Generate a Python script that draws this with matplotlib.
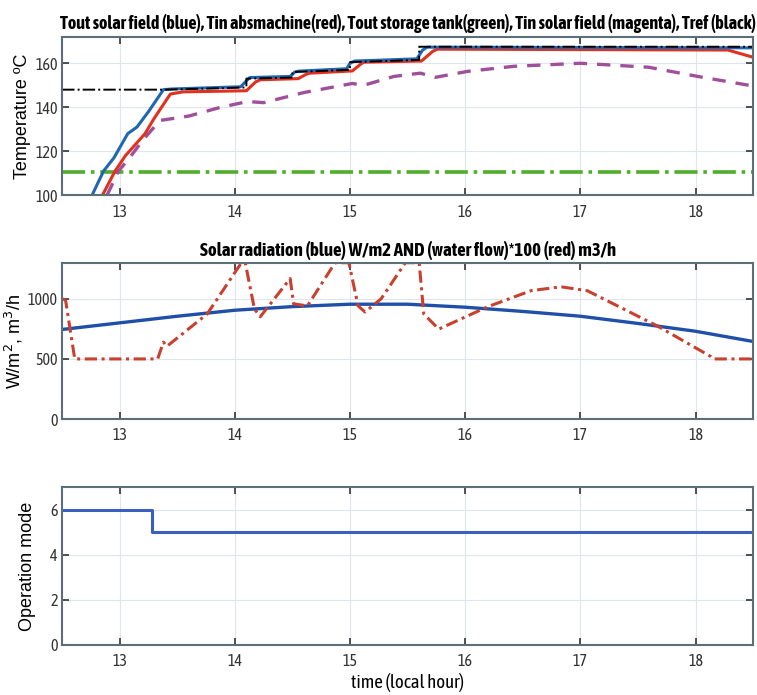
import numpy as np
import matplotlib
matplotlib.use('Agg')
import matplotlib.pyplot as plt
from matplotlib import font_manager

# narrow face for ticks/titles (reference looks like Arial Narrow)
names = [f.name for f in font_manager.fontManager.ttflist]
bold_names = [f.name for f in font_manager.fontManager.ttflist
              if f.weight in ('bold', 700, 'heavy')]
narrow = None
for n in names:
    if ('Narrow' in n or 'Condensed' in n) and n in bold_names:
        narrow = n
        break
if narrow is None:
    for n in names:
        if 'Narrow' in n or 'Condensed' in n:
            narrow = n
            break
nfam = [narrow, 'DejaVu Sans'] if narrow else ['Liberation Sans', 'DejaVu Sans']
rfam = ['Liberation Sans', 'DejaVu Sans']
plt.rcParams['font.family'] = nfam

# top panel: temperatures
t_blue = [12.76, 12.86, 12.95, 13.07, 13.15, 13.25, 13.38, 13.45, 14.05, 14.10, 14.13, 14.48, 14.52, 14.55, 14.97, 15.00, 15.04, 15.58, 15.63, 15.67, 18.50]
T_blue = [100, 111, 117, 128, 131, 138, 148, 148.3, 149.3, 152, 153.5, 154, 156, 156.4, 157.5, 160, 161, 162, 166, 167.3, 167]

t_red = [12.85, 12.96, 13.05, 13.22, 13.30, 13.44, 13.55, 14.10, 14.18, 14.22, 14.55, 14.62, 14.65, 15.02, 15.09, 15.12, 15.62, 15.72, 15.76, 18.28, 18.50]
T_red = [100, 111, 118, 128, 135, 146, 147, 147.5, 151.5, 152.5, 153, 155, 155.5, 156.5, 159.5, 160.5, 161, 165.5, 166.4, 166, 162.7]

t_ref = [12.5, 13.4, 14.1, 14.1, 14.5, 14.5, 15.0, 15.0, 15.6, 15.6, 18.5]
T_ref = [148, 148, 149, 153, 153.5, 156, 157, 160.5, 161.5, 167.5, 167.5]

t_tank = [12.5, 18.5]
T_tank = [110.8, 110.8]

t_mag = [12.89, 12.99, 13.10, 13.20, 13.35, 13.60, 13.87, 14.11, 14.25, 14.60, 15.02, 15.12, 15.38, 15.61, 15.74, 16.02, 16.42, 17.00, 17.59, 18.02, 18.46]
T_mag = [100, 111, 118, 125, 134, 136, 139.9, 142.6, 142.1, 146.7, 150.8, 150, 154, 155.5, 153.6, 156.3, 158.6, 160, 158.2, 154, 150]

# middle panel: radiation and flow
t_rad = [12.5, 13.0, 13.5, 14.0, 14.5, 15.0, 15.5, 16.0, 16.5, 17.0, 17.5, 18.0, 18.5]
rad = [745, 800, 855, 905, 935, 955, 955, 930, 895, 855, 795, 730, 645]

t_flow = [12.5, 12.53, 12.61, 13.33, 13.38, 13.41, 13.76, 14.05, 14.09, 14.17, 14.22, 14.48, 14.51, 14.63, 14.87, 14.99, 15.07, 15.13, 15.27, 15.48, 15.60, 15.64, 15.77, 16.19, 16.57, 16.83, 17.06, 17.67, 18.13, 18.15, 18.5]
flow = [1000, 990, 500, 500, 640, 605, 874, 1290, 1300, 916, 850, 1168, 958, 941, 1300, 1300, 941, 890, 1000, 1300, 1300, 874, 748, 932, 1067, 1100, 1067, 773, 521, 500, 500]

# bottom panel: operation mode
t_mode = [12.5, 13.28, 18.5]
mode = [6, 5, 5]

xticks = [13, 14, 15, 16, 17, 18]

fig = plt.figure(figsize=(7.57, 6.95), dpi=100)
ax1 = fig.add_axes([0.082, 0.719, 0.913, 0.228])
ax2 = fig.add_axes([0.082, 0.397, 0.913, 0.225])
ax3 = fig.add_axes([0.082, 0.072, 0.913, 0.227])

blue = '#1f67b0'
red = '#e0301e'

ax1.plot(t_tank, T_tank, color='#4fae2a', lw=2.6, ls='-.')
ax1.plot(t_mag, T_mag, color='#a0509a', lw=2.4, ls=(0, (4, 3)))
ax1.plot(t_red, T_red, color=red, lw=2.2)
ax1.plot(t_blue, T_blue, color=blue, lw=2.2)
ax1.plot(t_ref, T_ref, color='black', lw=1.4, ls='-.')
ax1.set_ylim(100, 172)
ax1.set_yticks([100, 120, 140, 160])
ax1.set_ylabel('Temperature ºC', fontsize=13, family=rfam, labelpad=3)

ax1.set_title('Tout solar field (blue), Tin absmachine(red), Tout storage tank(green), Tin solar field (magenta), Tref (black)',
              fontsize=13, fontweight='bold', pad=6)

ax2.plot(t_rad, rad, color='#1f4fa8', lw=2.4)
ax2.plot(t_flow, flow, color='#c8402e', lw=2.2, ls=(0, (4, 1.5, 1, 1.5)))
ax2.set_ylim(0, 1300)
ax2.set_yticks([0, 500, 1000])
ax2.set_ylabel('W/m$^2$, m$^3$/h', fontsize=13, family=rfam, labelpad=2)
ax2.set_title('Solar radiation (blue) W/m2 AND (water flow)*100 (red) m3/h',
              fontsize=13.5, fontweight='bold', pad=5)

ax3.plot(t_mode, mode, color='#3a5fc0', lw=2.2, drawstyle='steps-post')
ax3.set_ylim(0, 7)
ax3.set_yticks([0, 2, 4, 6])
ax3.set_ylabel('Operation mode', fontsize=13, family=rfam, labelpad=10)
ax3.set_xlabel('time (local hour)', fontsize=13.5, labelpad=2)

for ax in (ax1, ax2, ax3):
    ax.set_xlim(12.5, 18.5)
    ax.set_xticks(xticks)
    ax.grid(True, color='#dde5ee', lw=0.8)
    ax.set_axisbelow(True)
    ax.tick_params(direction='in', top=True, right=True, labelsize=11.5,
                   colors='#333333', length=5, width=1.2)
    ax.tick_params(axis='x', pad=6)
    ax.tick_params(axis='y', pad=3)
    for s in ax.spines.values():
        s.set_color('#5b6f78')
        s.set_linewidth(1.5)

fig.savefig('out.png', dpi=100)
